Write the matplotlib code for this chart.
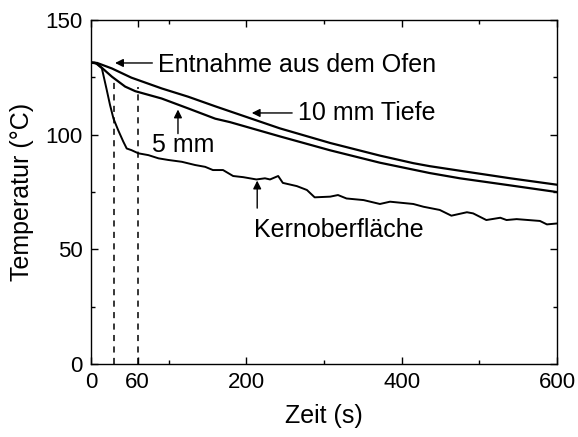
import matplotlib
matplotlib.use('Agg')
import matplotlib.pyplot as plt
from matplotlib.ticker import FixedLocator

plt.rcParams['font.family'] = ['Liberation Sans', 'DejaVu Sans']

t_10mm = [0, 8, 27, 52, 91, 125, 160, 179, 243, 308, 372, 415, 436, 475, 540, 600]
T_10mm = [131.5, 131.3, 128.9, 124.9, 120.2, 116.6, 112.4, 110.2, 102.8, 96.4,
          90.9, 87.6, 86.3, 84.3, 81.0, 78.2]

t_5mm = [0, 8, 27, 44, 57, 91, 125, 160, 179, 243, 308, 372, 436, 475, 540, 600]
T_5mm = [131.5, 131.0, 125.3, 121.0, 119.0, 115.8, 111.5, 107.0, 105.5, 99.3,
         93.2, 87.8, 83.3, 81.0, 77.9, 75.0]

t_kern = [0, 5, 14, 20, 24.5, 29, 35, 41.6, 46, 52, 61, 74, 87, 99.5, 117, 134,
          147, 157, 170, 183, 196, 213, 224, 230.5, 241, 247, 265, 278, 288, 308,
          318, 329, 351, 372, 385, 415, 428, 449, 464, 484, 492, 509, 527, 535,
          548, 578, 587, 600]
T_kern = [131.5, 131.5, 129, 120, 113, 107, 102, 97, 94, 93.3, 91.9, 91.1, 89.7,
          89, 88.2, 86.8, 86, 84.6, 84.6, 82, 81.5, 80.5, 81, 80.5, 82, 79, 77.6,
          75.9, 72.7, 73, 73.7, 72.2, 71.5, 69.8, 70.8, 69.8, 68.6, 67.2, 64.7,
          66.2, 65.7, 62.8, 63.8, 62.8, 63.2, 62.4, 60.9, 61.3]

# gestrichelte Markierungen bei 30 s und 60 s
mark_t = [30, 60]
mark_top = [123, 121]

x_major = [0, 60, 200, 400, 600]
x_minor = [100, 300, 500]
y_major = [0, 50, 100, 150]
y_minor = [25, 75, 125]

fig = plt.figure(figsize=(5.78, 4.37), dpi=100)
ax = fig.add_axes([0.1574, 0.167, 0.8063, 0.787])

ax.plot(t_10mm, T_10mm, color='black', lw=1.6)
ax.plot(t_5mm, T_5mm, color='black', lw=1.6)
ax.plot(t_kern, T_kern, color='black', lw=1.4)
for xm, top in zip(mark_t, mark_top):
    ax.plot([xm, xm], [0, top], color='black', lw=1.1, ls=(0, (4, 3.5)))

ax.set_xlim(0, 600)
ax.set_ylim(0, 150)
ax.xaxis.set_major_locator(FixedLocator(x_major))
ax.xaxis.set_minor_locator(FixedLocator(x_minor))
ax.yaxis.set_major_locator(FixedLocator(y_major))
ax.yaxis.set_minor_locator(FixedLocator(y_minor))
ax.tick_params(which='both', direction='in', top=True, right=True,
               labelsize=16, width=1.0)
ax.tick_params(which='major', length=5, pad=6)
ax.tick_params(which='minor', length=3)
for s in ax.spines.values():
    s.set_linewidth(1.0)

ax.set_xlabel('Zeit (s)', fontsize=18, labelpad=8)
ax.set_ylabel('Temperatur (°C)', fontsize=18, labelpad=8)

# ── Beschriftungen mit Pfeilen ─────────────────────────────────────
arrow = dict(arrowstyle='-|>', color='black', lw=1.0, mutation_scale=12,
             shrinkA=0, shrinkB=0)
ax.annotate('', xy=(31, 131.3), xytext=(79, 131.3), arrowprops=arrow)
ax.text(86, 130.4, 'Entnahme aus dem Ofen', fontsize=18, va='center', ha='left')

ax.annotate('', xy=(207, 109.5), xytext=(259, 109.5), arrowprops=arrow)
ax.text(266, 109.5, '10 mm Tiefe', fontsize=18, va='center', ha='left')

ax.annotate('', xy=(112, 111), xytext=(112, 100.5), arrowprops=arrow)
ax.text(78, 95.5, '5 mm', fontsize=18, va='center', ha='left')

ax.annotate('', xy=(214, 80), xytext=(214, 68), arrowprops=arrow)
ax.text(210, 58.4, 'Kernoberfläche', fontsize=18, va='center', ha='left')

fig.savefig('out.png', dpi=100)
